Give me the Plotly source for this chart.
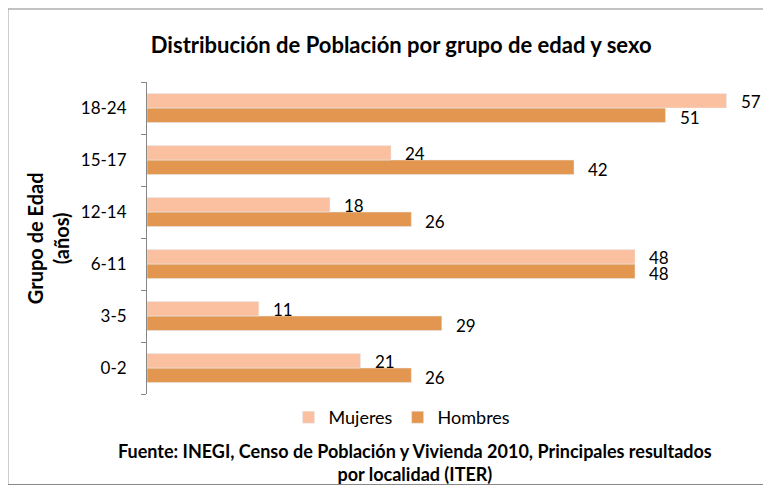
import plotly.graph_objects as go

categorias = ["0-2", "3-5", "6-11", "12-14", "15-17", "18-24"]
mujeres = [21, 11, 48, 18, 24, 57]
hombres = [26, 29, 48, 26, 42, 51]

titulo = "Distribución de Población por grupo de edad y sexo"
fuente = "Fuente: INEGI, Censo de Población y Vivienda 2010, Principales resultados<br>por localidad (ITER)"
eje_y = "Grupo de Edad<br>(años)"

C_MUJ = "#FAC09F"
C_HOM = "#E2964F"
FONT = "Lato"

fig = go.Figure()
fig.add_trace(go.Bar(y=categorias, x=hombres, orientation="h", name="Hombres",
                     marker=dict(color=C_HOM), legendrank=2))
fig.add_trace(go.Bar(y=categorias, x=mujeres, orientation="h", name="Mujeres",
                     marker=dict(color=C_MUJ), legendrank=1))

ann = []
for c, m, h in zip(categorias, mujeres, hombres):
    ann.append(dict(x=m, y=c, xref="x", yref="y", text=str(m), showarrow=False,
                    xanchor="left", yanchor="middle", xshift=12, yshift=7,
                    font=dict(family=FONT, size=17, color="#000")))
    ann.append(dict(x=h, y=c, xref="x", yref="y", text=str(h), showarrow=False,
                    xanchor="left", yanchor="middle", xshift=12, yshift=-9,
                    font=dict(family=FONT, size=17, color="#000")))

ann.append(dict(x=-0.162, y=0.5, xref="paper", yref="paper", text="<b>" + eje_y + "</b>",
                textangle=-90, showarrow=False, xanchor="center", yanchor="middle",
                font=dict(family=FONT, size=20, color="#000")))
ann.append(dict(x=0.44, y=-0.142, xref="paper", yref="paper", text="<b>" + fuente + "</b>",
                showarrow=False, xanchor="center", yanchor="top",
                font=dict(family=FONT, size=18, color="#000")))

fig.update_layout(
    width=771, height=485,
    margin=dict(l=139, r=22, t=74, b=99, autoexpand=False),
    paper_bgcolor="white", plot_bgcolor="white",
    barmode="group", bargap=0.44, bargroupgap=0,
    title=dict(text="<b>" + titulo + "</b>", x=0.51, xanchor="center", y=0.924, yanchor="middle",
               font=dict(family=FONT, size=22, color="#000")),
    font=dict(family=FONT, size=17, color="#000"),
    xaxis=dict(visible=False, range=[0, 60]),
    yaxis=dict(showline=True, linecolor="#868686", linewidth=1, ticks="outside",
               ticklen=5, tickcolor="#868686", tickson="boundaries", showgrid=False,
               tickfont=dict(family=FONT, size=17, color="#000"), ticklabelstandoff=16),
    legend=dict(orientation="h", x=0.232, xanchor="left", y=-0.016, yanchor="top",
                font=dict(family=FONT, size=18, color="#000"), itemwidth=30),
    showlegend=True,
    annotations=ann,
    shapes=[dict(type="rect", xref="paper", yref="paper", x0=-0.228, x1=1.02,
                 y0=-0.29, y1=1.234, line=dict(color="#868686", width=1))],
)

fig.write_html("out.html")
